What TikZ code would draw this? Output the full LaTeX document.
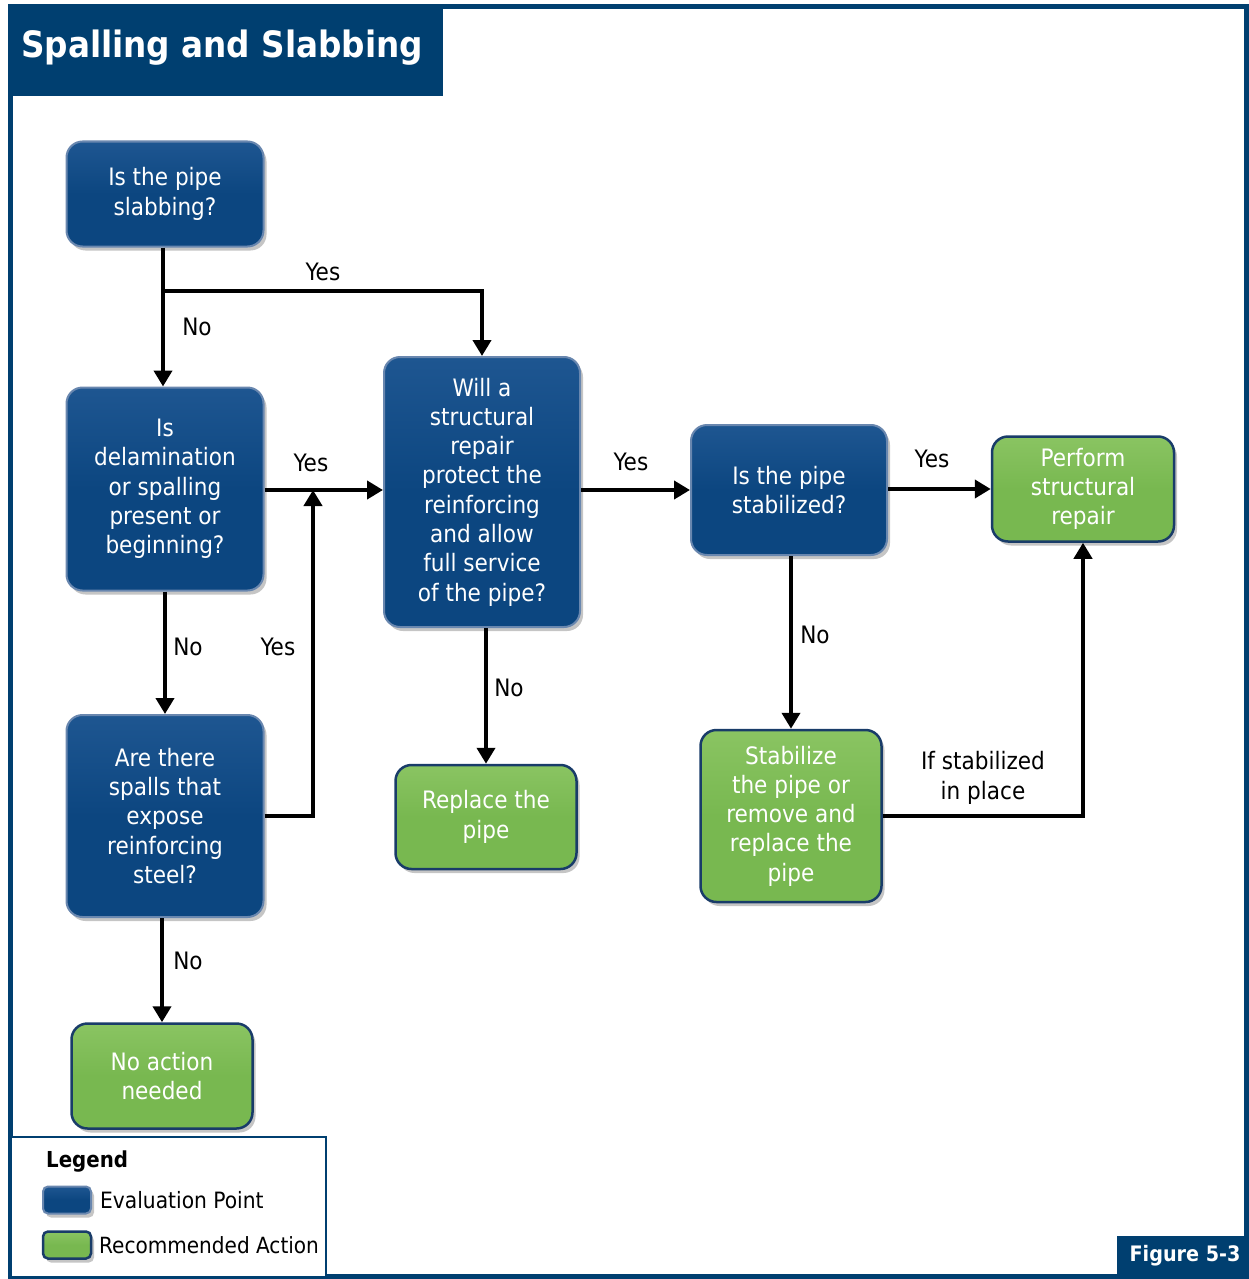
\documentclass[tikz,border=0pt]{standalone}
\usepackage{fontspec}
\setmainfont{DejaVu Sans Condensed}
\usetikzlibrary{arrows.meta,shadows}

\definecolor{navy}{RGB}{0,63,112}
\definecolor{evalblue}{RGB}{12,70,128}
\definecolor{evaltop}{RGB}{30,86,145}
\definecolor{evaledge}{RGB}{105,135,175}
\definecolor{actgreen}{RGB}{120,184,80}
\definecolor{acttop}{RGB}{138,196,98}
\definecolor{actedge}{RGB}{25,60,105}

\tikzset{
  evalbox/.style={draw=evaledge, line width=2pt, rounded corners=16pt,
    top color=evaltop, bottom color=evalblue, middle color=evalblue,
    text=white, align=center, font=\fontsize{24}{29.3}\selectfont,
    drop shadow={opacity=0.45, shadow xshift=3pt, shadow yshift=-4pt}},
  actbox/.style={draw=actedge, line width=2.5pt, rounded corners=16pt,
    top color=acttop, bottom color=actgreen, middle color=actgreen,
    text=white, align=center, font=\fontsize{24}{29.3}\selectfont,
    drop shadow={opacity=0.45, shadow xshift=3pt, shadow yshift=-4pt}},
  flow/.style={line width=4pt, draw=black},
  arr/.style={flow, -{Triangle[length=16pt,width=18pt]}},
  lbl/.style={font=\fontsize{24}{29}\selectfont, text=black, inner sep=0pt, align=center},
}

\begin{document}
\begin{tikzpicture}[x=1pt, y=-1pt]
\useasboundingbox (0,0) rectangle (1249,1279);

% outer frame
\fill[white] (0,0) rectangle (1249,1279);
\draw[navy, line width=5pt] (10.5,96) -- (10.5,1276.5) -- (1246.5,1276.5) -- (1246.5,6.5) -- (443,6.5);
\fill[navy] (8,4) rectangle (443,96);
\node[anchor=west, text=white, font=\fontsize{36.3}{40}\selectfont\bfseries, inner sep=0pt] (title) at (21,48) {Spalling and Slabbing};

% evaluation points
\node[evalbox, minimum width=197pt, minimum height=105pt] (A) at (165,194) {Is the pipe\\slabbing?};
\node[evalbox, minimum width=197pt, minimum height=203pt] (B) at (165,489) {Is\\delamination\\or spalling\\present or\\beginning?};
\node[evalbox, minimum width=197pt, minimum height=202pt] (C) at (165,816) {Are there\\spalls that\\expose\\reinforcing\\steel?};
\node[evalbox, minimum width=196pt, minimum height=270pt] (D) at (482,492) {Will a\\structural\\repair\\protect the\\reinforcing\\and allow\\full service\\of the pipe?};
\node[evalbox, minimum width=196pt, minimum height=130pt] (E) at (789,490) {Is the pipe\\stabilized?};

% recommended actions
\node[actbox, minimum width=182pt, minimum height=105pt] (F) at (1083,489) {Perform\\structural\\repair};
\node[actbox, minimum width=181pt, minimum height=104pt] (G) at (486,817) {Replace the\\pipe};
\node[actbox, minimum width=181pt, minimum height=172pt] (H) at (791,816) {Stabilize\\the pipe or\\remove and\\replace the\\pipe};
\node[actbox, minimum width=181pt, minimum height=105pt] (I) at (162,1076) {No action\\needed};

% connectors
\coordinate (j1) at (163,291);
\coordinate (j2) at (313,490);
\draw[arr] (A.south -| j1) -- (B.north -| j1);
\draw[arr] (j1) -| (D.north);
\draw[arr] (B.east |- j2) -- (D.west |- j2);
\draw[arr] (C.east) -| (j2);
\draw[arr] (B.south) -- (C.north);
\draw[arr] (I.north |- C.south) -- (I.north);
\draw[arr] (D.east |- E.west) -- (E.west);
\draw[arr] (G.north |- D.south) -- (G.north);
\draw[arr] (E.east |- F.west) -- (F.west);
\draw[arr] (H.north |- E.south) -- (H.north);
\draw[arr] (H.east) -| (F.south);

% connector labels
\node[lbl] (l1) at (323,272) {Yes};
\node[lbl] (l2) at (197,327) {No};
\node[lbl] (l3) at (311,463) {Yes};
\node[lbl] (l4) at (188,647) {No};
\node[lbl] (l5) at (278,647) {Yes};
\node[lbl] (l6) at (188,961) {No};
\node[lbl] (l7) at (631,462) {Yes};
\node[lbl] (l8) at (509,688) {No};
\node[lbl] (l9) at (932,459) {Yes};
\node[lbl] (l10) at (815,635) {No};
\node[lbl, font=\fontsize{24}{30}\selectfont] (l11) at (983,778) {If stabilized\\in place};

% legend
\draw[navy, line width=2.5pt, fill=white] (11,1137) rectangle (326,1277);
\node[anchor=west, inner sep=0pt, font=\fontsize{22}{24}\selectfont\bfseries] (leg) at (46,1162) {Legend};
\node[evalbox, rounded corners=5pt, minimum width=48pt, minimum height=27pt, inner sep=0pt] (sw1) at (67,1200) {};
\node[actbox, rounded corners=5pt, minimum width=48pt, minimum height=27pt, inner sep=0pt] (sw2) at (67,1245) {};
\node[anchor=west, inner sep=0pt, font=\fontsize{22.5}{24}\selectfont] (t1) at (100,1200) {Evaluation Point};
\node[anchor=west, inner sep=0pt, font=\fontsize{22.3}{24}\selectfont] (t2) at (99,1245) {Recommended Action};

% figure number
\fill[navy] (1117,1236) rectangle (1249,1279);
\node[text=white, inner sep=0pt, font=\fontsize{21.3}{24}\selectfont\bfseries] (fig) at (1185,1256) {Figure 5-3};
\end{tikzpicture}
\end{document}
